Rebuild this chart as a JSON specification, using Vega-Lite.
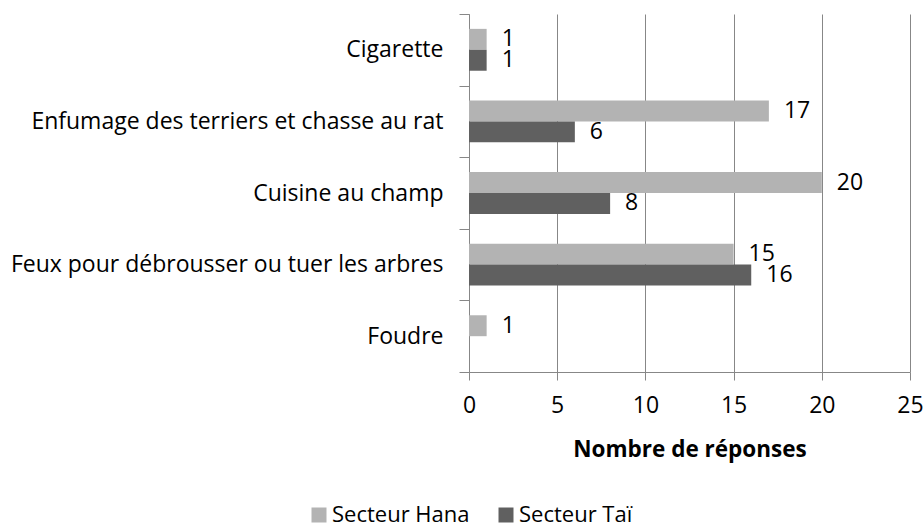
{
  "$schema": "https://vega.github.io/schema/vega-lite/v6.json",
  "autosize": "none",
  "width": 441,
  "height": 358,
  "padding": {"left": 469, "top": 14, "right": 14, "bottom": 158},
  "background": "white",
  "config": {
    "view": {"stroke": null},
    "font": "Open Sans",
    "text": {"font": "Open Sans"}
  },
  "data": {
    "values": [
      {"cause": "Cigarette", "secteur": "Secteur Hana", "n": 1},
      {"cause": "Cigarette", "secteur": "Secteur Taï", "n": 1},
      {"cause": "Enfumage des terriers et chasse au rat", "secteur": "Secteur Hana", "n": 17},
      {"cause": "Enfumage des terriers et chasse au rat", "secteur": "Secteur Taï", "n": 6},
      {"cause": "Cuisine au champ", "secteur": "Secteur Hana", "n": 20},
      {"cause": "Cuisine au champ", "secteur": "Secteur Taï", "n": 8},
      {"cause": "Feux pour débrousser ou tuer les arbres", "secteur": "Secteur Hana", "n": 15},
      {"cause": "Feux pour débrousser ou tuer les arbres", "secteur": "Secteur Taï", "n": 16},
      {"cause": "Foudre", "secteur": "Secteur Hana", "n": 1}
    ]
  },
  "encoding": {
    "y": {
      "field": "cause",
      "type": "nominal",
      "sort": ["Cigarette", "Enfumage des terriers et chasse au rat", "Cuisine au champ", "Feux pour débrousser ou tuer les arbres", "Foudre"],
      "scale": {"paddingInner": 0, "paddingOuter": 0},
      "axis": {
        "title": null,
        "tickBand": "extent",
        "tickSize": 10,
        "tickColor": "#878787",
        "domainColor": "#878787",
        "labelFontSize": 23,
        "labelFont": "Open Sans",
        "labelColor": "#000000",
        "labelPadding": 16,
        "labelLimit": 600,
        "grid": false
      }
    },
    "yOffset": {
      "field": "secteur",
      "type": "nominal",
      "sort": ["Secteur Hana", "Secteur Taï"],
      "scale": {"paddingInner": 0, "paddingOuter": 0.71}
    },
    "x": {
      "field": "n",
      "type": "quantitative",
      "scale": {"domain": [0, 25]},
      "axis": {
        "title": "Nombre de réponses",
        "titleFont": "Open Sans",
        "titleFontSize": 22.5,
        "titleFontWeight": "bold",
        "titleColor": "#000000",
        "titlePadding": 21,
        "values": [0, 5, 10, 15, 20, 25],
        "grid": true,
        "gridColor": "#878787",
        "gridWidth": 1,
        "tickSize": 8,
        "tickColor": "#878787",
        "domainColor": "#878787",
        "labelFontSize": 23,
        "labelFont": "Open Sans",
        "labelColor": "#000000",
        "labelPadding": 14,
        "labelFlush": false,
        "labelOverlap": false
      }
    }
  },
  "layer": [
    {
      "mark": {"type": "bar"},
      "encoding": {
        "color": {
          "field": "secteur",
          "type": "nominal",
          "scale": {"domain": ["Secteur Hana", "Secteur Taï"], "range": ["#b3b3b3", "#606060"]},
          "legend": {
            "title": null,
            "orient": "none",
            "direction": "horizontal",
            "legendX": -161,
            "legendY": 490,
            "symbolType": "square",
            "symbolSize": 225,
            "symbolStrokeWidth": 0,
            "labelFontSize": 22,
            "labelFont": "Open Sans",
            "labelColor": "#000000",
            "labelOffset": 2,
            "columnPadding": 25,
            "labelLimit": 300
          }
        }
      }
    },
    {
      "mark": {"type": "text", "align": "left", "baseline": "middle", "dx": 15, "fontSize": 23, "font": "Open Sans", "color": "#000000"},
      "encoding": {
        "text": {"field": "n", "type": "quantitative"}
      }
    }
  ]
}
